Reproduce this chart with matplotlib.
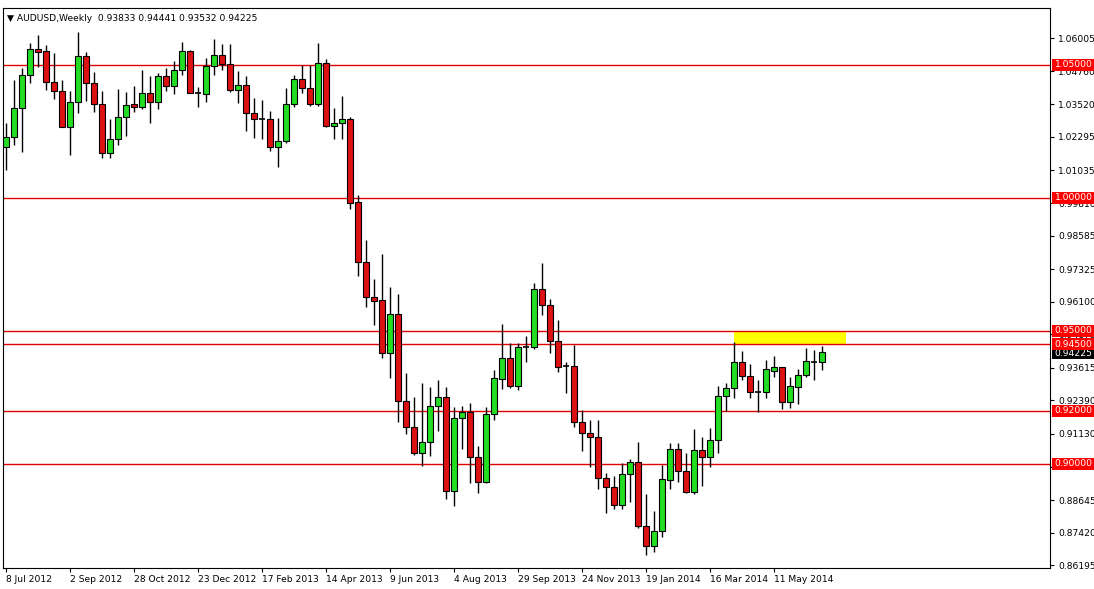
import matplotlib
matplotlib.use("Agg")
import matplotlib.pyplot as plt
from matplotlib.patches import Rectangle

# weekly AUDUSD candles (open, high, low, close)
opens = [1.0192, 1.0229, 1.0338, 1.0462, 1.0560, 1.0553, 1.0436, 1.0402, 1.0267, 1.0361,
         1.0534, 1.0432, 1.0353, 1.0169, 1.0222, 1.0304, 1.0353, 1.0342, 1.0395, 1.0361,
         1.0459, 1.0421, 1.0481, 1.0553, 1.0395, 1.0391, 1.0496, 1.0538, 1.0504, 1.0406,
         1.0425, 1.0320, 1.0297, 1.0297, 1.0192, 1.0214, 1.0353, 1.0447, 1.0414, 1.0353,
         1.0508, 1.0271, 1.0282, 1.0297, 0.9985, 0.9759, 0.9628, 0.9616, 0.9417, 0.9564,
         0.9237, 0.9139, 0.9041, 0.9082, 0.9218, 0.9252, 0.8898, 0.9173, 0.9195, 0.9026,
         0.8932, 0.9188, 0.9319, 0.9398, 0.9293, 0.9440, 0.9440, 0.9658, 0.9598, 0.9462,
         0.9368, 0.9368, 0.9158, 0.9116, 0.9101, 0.8947, 0.8913, 0.8846, 0.8962, 0.9007,
         0.8767, 0.8691, 0.8748, 0.8940, 0.9056, 0.8973, 0.8894, 0.9052, 0.9026, 0.9090,
         0.9255, 0.9286, 0.9383, 0.9331, 0.9270, 0.9270, 0.9349, 0.9364, 0.9233, 0.9290,
         0.9334, 0.9383, 0.93833]
highs = [1.0282, 1.0444, 1.0489, 1.0583, 1.0613, 1.0575, 1.0545, 1.0444, 1.0402, 1.0624,
         1.0549, 1.0474, 1.0402, 1.0297, 1.0410, 1.0398, 1.0421, 1.0481, 1.0459, 1.0470,
         1.0489, 1.0515, 1.0586, 1.0556, 1.0417, 1.0526, 1.0598, 1.0579, 1.0579, 1.0477,
         1.0459, 1.0376, 1.0368, 1.0327, 1.0301, 1.0414, 1.0462, 1.0500, 1.0500, 1.0583,
         1.0523, 1.0338, 1.0383, 1.0304, 1.0011, 0.9842, 0.9695, 0.9789, 0.9665, 0.9639,
         0.9342, 0.9252, 0.9304, 0.9289, 0.9316, 0.9289, 0.9214, 0.9218, 0.9229, 0.9067,
         0.9214, 0.9353, 0.9526, 0.9455, 0.9455, 0.9481, 0.9680, 0.9756, 0.9620, 0.9541,
         0.9383, 0.9447, 0.9203, 0.9165, 0.9165, 0.8966, 0.8955, 0.9004, 0.9019, 0.9082,
         0.8887, 0.8823, 0.8996, 0.9079, 0.9079, 0.9041, 0.9131, 0.9101, 0.9135, 0.9293,
         0.9304, 0.9458, 0.9425, 0.9376, 0.9316, 0.9391, 0.9406, 0.9366, 0.9327, 0.9357,
         0.9436, 0.9428, 0.94441]
lows = [1.0105, 1.0199, 1.0173, 1.0432, 1.0492, 1.0406, 1.0372, 1.0267, 1.0162, 1.0320,
        1.0365, 1.0323, 1.0150, 1.0150, 1.0199, 1.0233, 1.0323, 1.0335, 1.0282, 1.0335,
        1.0402, 1.0391, 1.0462, 1.0395, 1.0342, 1.0361, 1.0462, 1.0481, 1.0398, 1.0357,
        1.0252, 1.0226, 1.0222, 1.0177, 1.0116, 1.0207, 1.0342, 1.0395, 1.0346, 1.0346,
        1.0267, 1.0222, 1.0222, 0.9959, 0.9707, 0.9590, 0.9522, 0.9398, 0.9323, 0.9158,
        0.9113, 0.9034, 0.8992, 0.9030, 0.9124, 0.8868, 0.8842, 0.9056, 0.8928, 0.8891,
        0.8928, 0.9165, 0.9282, 0.9286, 0.9278, 0.9383, 0.9432, 0.9560, 0.9417, 0.9346,
        0.9267, 0.9139, 0.9049, 0.8988, 0.8906, 0.8816, 0.8831, 0.8831, 0.8857, 0.8759,
        0.8658, 0.8669, 0.8725, 0.8906, 0.8932, 0.8891, 0.8887, 0.8917, 0.8988, 0.9041,
        0.9199, 0.9248, 0.9316, 0.9248, 0.9195, 0.9248, 0.9327, 0.9207, 0.9210, 0.9225,
        0.9327, 0.9316, 0.93532]
closes = [1.0229, 1.0338, 1.0462, 1.0560, 1.0549, 1.0436, 1.0402, 1.0267, 1.0361, 1.0534,
          1.0432, 1.0353, 1.0169, 1.0222, 1.0304, 1.0350, 1.0342, 1.0395, 1.0361, 1.0459,
          1.0421, 1.0481, 1.0553, 1.0395, 1.0393, 1.0496, 1.0538, 1.0504, 1.0406, 1.0425,
          1.0320, 1.0297, 1.0296, 1.0192, 1.0214, 1.0353, 1.0447, 1.0414, 1.0353, 1.0508,
          1.0271, 1.0282, 1.0297, 0.9981, 0.9759, 0.9628, 0.9613, 0.9417, 0.9564, 0.9237,
          0.9139, 0.9041, 0.9082, 0.9218, 0.9252, 0.8898, 0.9173, 0.9195, 0.9026, 0.8932,
          0.9188, 0.9323, 0.9398, 0.9293, 0.9440, 0.9438, 0.9658, 0.9598, 0.9462, 0.9364,
          0.9366, 0.9158, 0.9116, 0.9101, 0.8947, 0.8913, 0.8846, 0.8962, 0.9007, 0.8767,
          0.8691, 0.8748, 0.8943, 0.9056, 0.8973, 0.8894, 0.9052, 0.9026, 0.9090, 0.9255,
          0.9286, 0.9383, 0.9331, 0.9270, 0.9268, 0.9357, 0.9364, 0.9233, 0.9293, 0.9334,
          0.9387, 0.9385, 0.94225]

level_lines = [1.05, 1.00, 0.95, 0.945, 0.92, 0.90]
level_labels = ["1.05000", "1.00000", "0.95000", "0.94500", "0.92000", "0.90000"]
ytick_values = [1.06005, 1.04760, 1.03520, 1.02295, 1.01035, 0.99810, 0.98585, 0.97325,
                0.96100, 0.94875, 0.93615, 0.92390, 0.91130, 0.89905, 0.88645, 0.87420, 0.86195]
date_idx = [0, 8, 16, 24, 32, 40, 48, 56, 64, 72, 80, 88, 96]
date_labels = ["8 Jul 2012", "2 Sep 2012", "28 Oct 2012", "23 Dec 2012", "17 Feb 2013",
               "14 Apr 2013", "9 Jun 2013", "4 Aug 2013", "29 Sep 2013", "24 Nov 2013",
               "19 Jan 2014", "16 Mar 2014", "11 May 2014"]
zone_idx = (91, 105)
zone_prices = (0.945, 0.95)
last_price = 0.94225

FS = 6.6
W, H = 1094, 589
fig = plt.figure(figsize=(W / 100, H / 100), dpi=100)
ax = fig.add_axes([3 / W, 1 - 568 / H, (1050 - 3) / W, (568 - 8) / H])

ax.set_xlim(-0.4, 130.5)
ax.set_ylim(0.8609, 1.0714)

# resistance / support zone
ax.add_patch(Rectangle((zone_idx[0], zone_prices[0]), zone_idx[1] - zone_idx[0],
                       zone_prices[1] - zone_prices[0], facecolor="#ffff00",
                       edgecolor="none", zorder=1))

for lv in level_lines:
    ax.axhline(lv, color="#e00000", linewidth=1.0, zorder=2)

bw = 0.72
for i, (o, h, l, c) in enumerate(zip(opens, highs, lows, closes)):
    col = "#22dd22" if c >= o else "#dd1111"
    ax.vlines(i, l, h, color="black", linewidth=1.0, zorder=3)
    lo, hi = min(o, c), max(o, c)
    if hi - lo < 0.0004:
        ax.hlines((o + c) / 2, i - bw / 2, i + bw / 2, color="black", linewidth=1.2, zorder=4)
    else:
        ax.add_patch(Rectangle((i - bw / 2, lo), bw, hi - lo, facecolor=col,
                               edgecolor="black", linewidth=0.8, zorder=4))

ax.yaxis.tick_right()
ax.set_yticks(ytick_values)
ax.set_yticklabels([f"{v:.5f}" for v in ytick_values], fontsize=FS)
ax.set_xticks(date_idx)
ax.set_xticklabels(date_labels, fontsize=FS, ha="left")
ax.tick_params(axis="y", length=3, direction="out", pad=3)
ax.tick_params(axis="x", length=3, direction="out", pad=2)
for s in ax.spines.values():
    s.set_color("black")
    s.set_linewidth(0.8)

# price labels on the right axis: solid boxes from the axis edge to the figure edge
trans = ax.get_yaxis_transform()
box_w = 43 / (1050 - 3)
box_h = 0.0045
for lv, txt in zip(level_lines, level_labels):
    ax.add_patch(Rectangle((1.0015, lv - box_h / 2), box_w, box_h, transform=trans,
                           facecolor="#ff0000", edgecolor="none", clip_on=False, zorder=6))
    ax.text(1.0045, lv, txt, transform=trans, fontsize=FS, color="white",
            va="center", ha="left", zorder=7)
ax.add_patch(Rectangle((1.0015, last_price - 0.0006 - box_h / 2), box_w, box_h * 0.85,
                       transform=trans, facecolor="black", edgecolor="none",
                       clip_on=False, zorder=5))
ax.text(1.0045, last_price - 0.0008, f"{last_price:.5f}", transform=trans, fontsize=FS,
        color="white", va="center", ha="left", zorder=5)

ax.text(0.004, 0.99, "\u25bc AUDUSD,Weekly  %.5f %.5f %.5f %.5f"
        % (opens[-1], highs[-1], lows[-1], closes[-1]),
        transform=ax.transAxes, fontsize=FS, va="top", ha="left")

fig.savefig("out.png", dpi=100, facecolor="white")
